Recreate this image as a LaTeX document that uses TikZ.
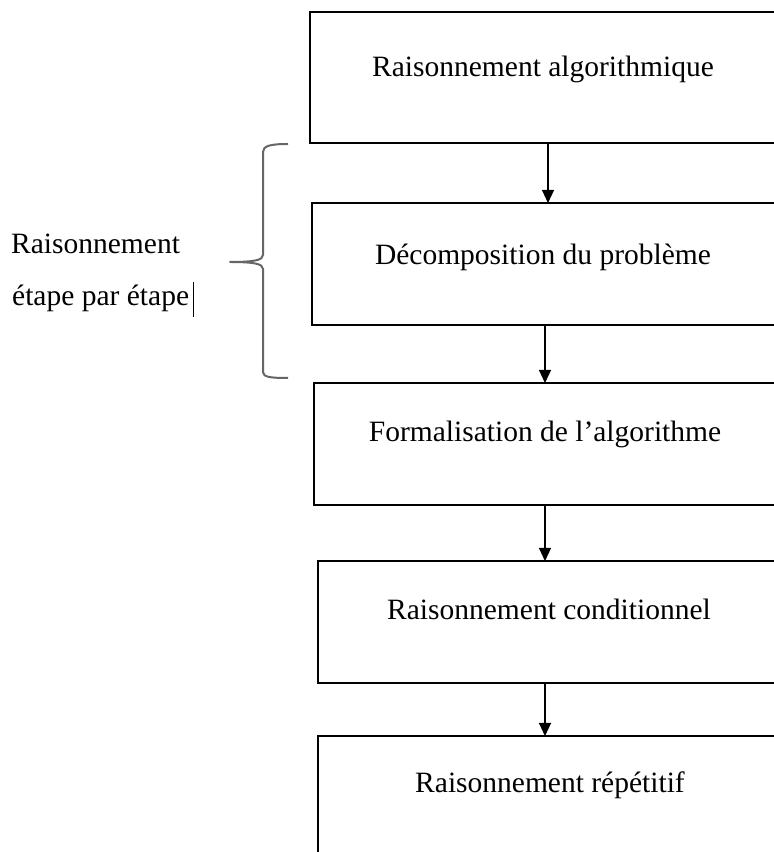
\documentclass[tikz,border=0pt]{standalone}
\usepackage{fontspec}
\setmainfont{Liberation Serif}
\usetikzlibrary{arrows.meta}
\begin{document}
\begin{tikzpicture}[x=1pt,y=1pt,
  box/.style={draw=black, line width=1.1pt, rectangle, inner sep=0pt, outer sep=0pt},
  lbl/.style={anchor=base, inner sep=0pt, font=\fontsize{29.5}{35}\selectfont},
  side/.style={anchor=base west, inner sep=0pt, font=\fontsize{29.5}{35}\selectfont},
  arr/.style={line width=1.1pt, -{Triangle[width=12pt,length=13pt]}},
  bracestyle/.style={draw=black!60, line width=2pt, line join=round}]
\useasboundingbox (0,0) rectangle (774,852);
\clip (0,0) rectangle (774,852);
\fill[white] (0,0) rectangle (774,852);
% boxes
\node[box, minimum width=480pt, minimum height=131pt] (b1) at (550,774.5) {};
\node[box, minimum width=478pt, minimum height=122pt] (b2) at (551,588) {};
\node[box, minimum width=476pt, minimum height=122pt] (b3) at (552,408) {};
\node[box, minimum width=472pt, minimum height=122pt] (b4) at (554,230) {};
\node[box, minimum width=472pt, minimum height=164pt] (b5) at (554,34) {};
% texts
\node[lbl] (t1) at (543,775) {Raisonnement algorithmique};
\node[lbl] (t2) at (543,587) {Décomposition du problème};
\node[lbl] (t3) at (545,410) {Formalisation de l’algorithme};
\node[lbl] (t4) at (549,232) {Raisonnement conditionnel};
\node[lbl] (t5) at (550,59) {Raisonnement répétitif};
% arrows
\coordinate (a1) at (548,0);
\coordinate (ax) at (545,0);
\draw[arr] (b1.south -| a1) -- (b2.north -| a1);
\draw[arr] (b2.south -| ax) -- (b3.north -| ax);
\draw[arr] (b3.south -| ax) -- (b4.north -| ax);
\draw[arr] (b4.south -| ax) -- (b5.north -| ax);
% brace
\draw[bracestyle] (288,708) .. controls (270,708) and (263,706) .. (263,700)
  -- (263,597) .. controls (263,592) and (255,590) .. (230,590)
  .. controls (255,590) and (263,588) .. (263,583)
  -- (263,480) .. controls (263,475) and (270,474) .. (288,474);
% side text
\node[side] (s1) at (11,598) {Raisonnement};
\node[side] (s2) at (12,546) {étape par étape};
\coordinate (cur) at (193,570);
\draw[line width=1pt] (cur) -- ++(0,-35);
\end{tikzpicture}
\end{document}
